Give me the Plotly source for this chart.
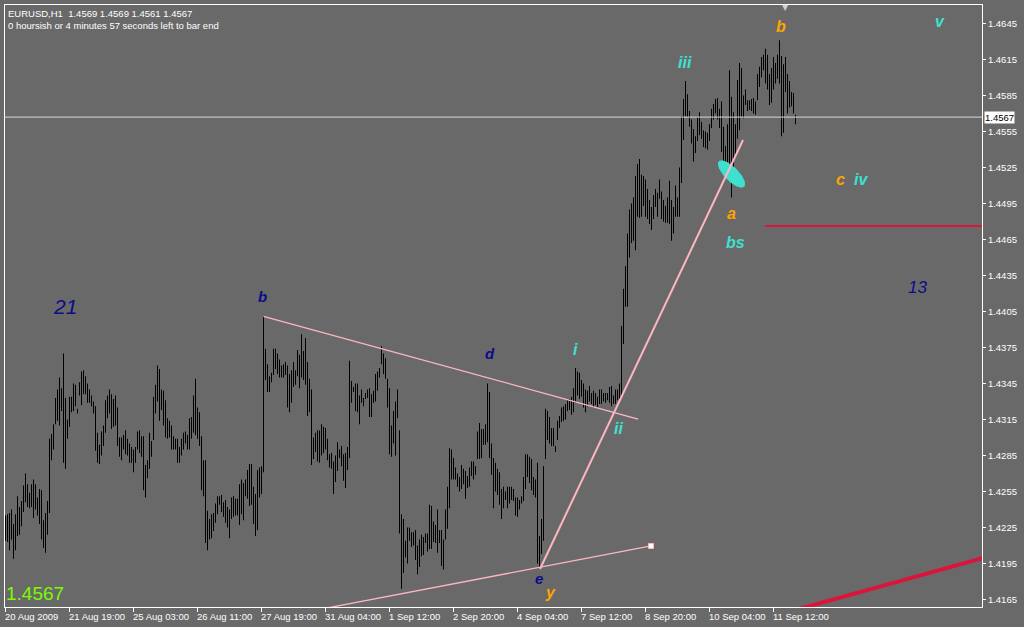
import numpy as np
import plotly.graph_objects as go

# ---------------- data ----------------
symbol = "EURUSD,H1"
last_ohlc = [1.4569, 1.4569, 1.4561, 1.4567]
timer_text = "0 hoursish or 4 minutes 57 seconds left to bar end"
bid_price = 1.4567

time_labels = ["20 Aug 2009", "21 Aug 19:00", "25 Aug 03:00", "26 Aug 11:00",
               "27 Aug 19:00", "31 Aug 04:00", "1 Sep 12:00", "2 Sep 20:00",
               "4 Sep 04:00", "7 Sep 12:00", "8 Sep 20:00", "10 Sep 04:00",
               "11 Sep 12:00"]
bars_per_label = 32

price_ticks = [1.4165, 1.4195, 1.4225, 1.4255, 1.4285, 1.4315, 1.4345, 1.4375,
               1.4405, 1.4435, 1.4465, 1.4495, 1.4525, 1.4555, 1.4585, 1.4615, 1.4645]

highs = [
    1.4235, 1.4236, 1.4237, 1.4240, 1.4228, 1.4236, 1.4251, 1.4242, 1.4247, 1.4260,
    1.4270, 1.4261, 1.4254, 1.4261, 1.4265, 1.4261, 1.4250, 1.4257, 1.4256, 1.4231,
    1.4237, 1.4247, 1.4299, 1.4303, 1.4311, 1.4333, 1.4340, 1.4350, 1.4341, 1.4370,
    1.4333, 1.4315, 1.4334, 1.4334, 1.4345, 1.4344, 1.4324, 1.4346, 1.4355, 1.4356,
    1.4351, 1.4345, 1.4340, 1.4335, 1.4330, 1.4326, 1.4304, 1.4294,
    1.4305, 1.4310, 1.4331, 1.4335, 1.4340, 1.4336, 1.4332, 1.4335, 1.4325, 1.4300,
    1.4300, 1.4302, 1.4306, 1.4299, 1.4295, 1.4292, 1.4290, 1.4292, 1.4305, 1.4306,
    1.4301, 1.4301, 1.4277, 1.4281, 1.4304, 1.4297, 1.4334, 1.4344, 1.4360, 1.4357,
    1.4340, 1.4339, 1.4331, 1.4316, 1.4314, 1.4310, 1.4301, 1.4299, 1.4299, 1.4292,
    1.4299, 1.4304, 1.4305, 1.4302, 1.4316, 1.4317, 1.4335, 1.4349, 1.4325, 1.4321,
    1.4301, 1.4281, 1.4281, 1.4239, 1.4232, 1.4236, 1.4237, 1.4245, 1.4251, 1.4251,
    1.4252, 1.4246, 1.4248, 1.4242, 1.4240, 1.4250, 1.4251, 1.4249, 1.4249, 1.4261,
    1.4265, 1.4262, 1.4265, 1.4273, 1.4278, 1.4278, 1.4259, 1.4253, 1.4273, 1.4275,
    1.4276, 1.4401, 1.4374, 1.4361, 1.4351, 1.4354, 1.4374, 1.4374, 1.4370, 1.4365,
    1.4360, 1.4361, 1.4363, 1.4360, 1.4353, 1.4356, 1.4363, 1.4356, 1.4373, 1.4369,
    1.4386, 1.4372, 1.4383, 1.4363, 1.4349, 1.4340, 1.4300, 1.4304, 1.4306, 1.4306,
    1.4311, 1.4309, 1.4308, 1.4299, 1.4286, 1.4287, 1.4280, 1.4285, 1.4296, 1.4290,
    1.4293, 1.4286, 1.4287, 1.4292, 1.4364, 1.4347, 1.4342, 1.4345, 1.4345, 1.4335,
    1.4340, 1.4333, 1.4337, 1.4340, 1.4341, 1.4336, 1.4339, 1.4353, 1.4355, 1.4358,
    1.4376, 1.4370, 1.4366, 1.4349, 1.4341, 1.4310, 1.4322, 1.4330, 1.4340, 1.4306,
    1.4236, 1.4232, 1.4214, 1.4225, 1.4225, 1.4221, 1.4221, 1.4223, 1.4210, 1.4215,
    1.4219, 1.4217, 1.4220, 1.4220, 1.4244, 1.4243, 1.4230, 1.4227, 1.4240, 1.4223,
    1.4223, 1.4215, 1.4240, 1.4259, 1.4291, 1.4290, 1.4283, 1.4275, 1.4270, 1.4267,
    1.4277, 1.4274, 1.4272, 1.4268, 1.4275, 1.4280, 1.4280, 1.4276, 1.4305, 1.4312,
    1.4307, 1.4307, 1.4311, 1.4345, 1.4338, 1.4295, 1.4283, 1.4279, 1.4274, 1.4271,
    1.4257, 1.4259, 1.4255, 1.4259, 1.4259, 1.4259, 1.4257, 1.4250, 1.4250, 1.4248,
    1.4251, 1.4267, 1.4286, 1.4286, 1.4284, 1.4282, 1.4267, 1.4265, 1.4279, 1.4218,
    1.4232, 1.4276, 1.4324, 1.4322, 1.4317, 1.4308, 1.4308, 1.4293, 1.4314, 1.4318,
    1.4325, 1.4326, 1.4328, 1.4331, 1.4332, 1.4334, 1.4341, 1.4358, 1.4355, 1.4354,
    1.4348, 1.4345, 1.4340, 1.4339, 1.4343, 1.4337, 1.4339, 1.4337, 1.4334, 1.4340,
    1.4340, 1.4337, 1.4337, 1.4337, 1.4342, 1.4343, 1.4335, 1.4340, 1.4340, 1.4345,
    1.4393, 1.4424, 1.4443, 1.4470, 1.4490, 1.4495, 1.4500, 1.4518, 1.4528, 1.4532,
    1.4519, 1.4518, 1.4515, 1.4507, 1.4498, 1.4492, 1.4502, 1.4507, 1.4504, 1.4515,
    1.4505, 1.4498, 1.4493, 1.4500, 1.4514, 1.4498, 1.4492, 1.4510, 1.4500, 1.4525,
    1.4568, 1.4582, 1.4597, 1.4586, 1.4572, 1.4565, 1.4557, 1.4551, 1.4567, 1.4571,
    1.4563, 1.4556, 1.4555, 1.4554, 1.4561, 1.4574, 1.4578, 1.4582, 1.4583, 1.4574,
    1.4580, 1.4559, 1.4543, 1.4561, 1.4606, 1.4584, 1.4571, 1.4561, 1.4598, 1.4612,
    1.4608, 1.4585, 1.4590, 1.4581, 1.4581, 1.4582, 1.4583, 1.4580, 1.4603, 1.4609,
    1.4617, 1.4619, 1.4624, 1.4619, 1.4603, 1.4608, 1.4617, 1.4612, 1.4619, 1.4631,
    1.4618, 1.4611, 1.4617, 1.4603, 1.4597, 1.4588, 1.4587, 1.4569,
]

lows = [
    1.4214, 1.4213, 1.4206, 1.4215, 1.4199, 1.4206, 1.4218, 1.4219, 1.4226, 1.4238,
    1.4246, 1.4242, 1.4241, 1.4242, 1.4233, 1.4240, 1.4235, 1.4228, 1.4215, 1.4208,
    1.4204, 1.4219, 1.4237, 1.4281, 1.4290, 1.4311, 1.4314, 1.4310, 1.4322, 1.4279,
    1.4274, 1.4299, 1.4309, 1.4321, 1.4322, 1.4326, 1.4320, 1.4335, 1.4327, 1.4336,
    1.4336, 1.4329, 1.4329, 1.4326, 1.4320, 1.4289, 1.4279, 1.4278,
    1.4285, 1.4293, 1.4304, 1.4316, 1.4320, 1.4307, 1.4309, 1.4310, 1.4293, 1.4284,
    1.4281, 1.4290, 1.4286, 1.4285, 1.4279, 1.4279, 1.4271, 1.4279, 1.4290, 1.4287,
    1.4284, 1.4256, 1.4250, 1.4266, 1.4274, 1.4284, 1.4298, 1.4320, 1.4330, 1.4314,
    1.4323, 1.4310, 1.4300, 1.4299, 1.4300, 1.4290, 1.4290, 1.4290, 1.4279, 1.4279,
    1.4285, 1.4290, 1.4295, 1.4290, 1.4290, 1.4299, 1.4304, 1.4302, 1.4299, 1.4293,
    1.4256, 1.4251, 1.4212, 1.4206, 1.4215, 1.4216, 1.4222, 1.4229, 1.4236, 1.4244,
    1.4238, 1.4234, 1.4229, 1.4225, 1.4216, 1.4232, 1.4234, 1.4235, 1.4235, 1.4227,
    1.4236, 1.4231, 1.4251, 1.4249, 1.4243, 1.4244, 1.4228, 1.4218, 1.4223, 1.4250,
    1.4253, 1.4271, 1.4348, 1.4338, 1.4338, 1.4346, 1.4352, 1.4357, 1.4353, 1.4350,
    1.4350, 1.4350, 1.4352, 1.4325, 1.4321, 1.4329, 1.4342, 1.4344, 1.4351, 1.4341,
    1.4350, 1.4348, 1.4344, 1.4318, 1.4321, 1.4277, 1.4282, 1.4288, 1.4280, 1.4279,
    1.4285, 1.4287, 1.4290, 1.4281, 1.4275, 1.4274, 1.4253, 1.4263, 1.4272, 1.4283,
    1.4276, 1.4264, 1.4258, 1.4273, 1.4283, 1.4329, 1.4338, 1.4322, 1.4321, 1.4311,
    1.4329, 1.4326, 1.4332, 1.4333, 1.4317, 1.4317, 1.4329, 1.4330, 1.4339, 1.4350,
    1.4361, 1.4353, 1.4349, 1.4325, 1.4286, 1.4284, 1.4295, 1.4285, 1.4316, 1.4220,
    1.4174, 1.4187, 1.4200, 1.4195, 1.4214, 1.4209, 1.4210, 1.4198, 1.4186, 1.4192,
    1.4201, 1.4202, 1.4212, 1.4205, 1.4207, 1.4207, 1.4213, 1.4212, 1.4204, 1.4212,
    1.4193, 1.4190, 1.4215, 1.4224, 1.4241, 1.4265, 1.4265, 1.4265, 1.4259, 1.4255,
    1.4257, 1.4261, 1.4249, 1.4258, 1.4259, 1.4268, 1.4265, 1.4269, 1.4282, 1.4282,
    1.4283, 1.4294, 1.4294, 1.4296, 1.4283, 1.4269, 1.4241, 1.4255, 1.4252, 1.4244,
    1.4232, 1.4241, 1.4248, 1.4241, 1.4245, 1.4248, 1.4247, 1.4235, 1.4234, 1.4240,
    1.4245, 1.4247, 1.4257, 1.4267, 1.4262, 1.4256, 1.4252, 1.4250, 1.4195, 1.4191,
    1.4203, 1.4214, 1.4282, 1.4298, 1.4295, 1.4293, 1.4293, 1.4288, 1.4298, 1.4308,
    1.4313, 1.4314, 1.4315, 1.4322, 1.4323, 1.4319, 1.4321, 1.4329, 1.4335, 1.4332,
    1.4334, 1.4325, 1.4321, 1.4326, 1.4330, 1.4328, 1.4325, 1.4327, 1.4325, 1.4328,
    1.4328, 1.4330, 1.4329, 1.4331, 1.4329, 1.4326, 1.4328, 1.4328, 1.4331, 1.4332,
    1.4334, 1.4378, 1.4409, 1.4409, 1.4450, 1.4462, 1.4464, 1.4456, 1.4484, 1.4483,
    1.4484, 1.4493, 1.4484, 1.4482, 1.4478, 1.4473, 1.4482, 1.4492, 1.4484, 1.4499,
    1.4482, 1.4480, 1.4479, 1.4479, 1.4478, 1.4464, 1.4470, 1.4484, 1.4484, 1.4484,
    1.4512, 1.4548, 1.4568, 1.4567, 1.4559, 1.4545, 1.4530, 1.4537, 1.4547, 1.4552,
    1.4549, 1.4542, 1.4541, 1.4540, 1.4547, 1.4558, 1.4565, 1.4570, 1.4565, 1.4558,
    1.4538, 1.4522, 1.4521, 1.4522, 1.4517, 1.4500, 1.4525, 1.4533, 1.4549, 1.4556,
    1.4567, 1.4566, 1.4577, 1.4572, 1.4573, 1.4572, 1.4570, 1.4569, 1.4581, 1.4592,
    1.4600, 1.4606, 1.4595, 1.4590, 1.4577, 1.4579, 1.4590, 1.4595, 1.4599, 1.4595,
    1.4551, 1.4554, 1.4588, 1.4570, 1.4575, 1.4576, 1.4570, 1.4561,
]

# chart objects (bar index, price)
upper_trend = [(129.0, 1.4401), (316.25, 1.43154)]
lower_trend = [(150.0, 1.41545), (322.75, 1.42096)]
impulse_trend = [(267.25, 1.41904), (368.75, 1.45479)]
red_level = [(379.75, 1.44763), (600.0, 1.44763)]
red_ray = [(380.0, 1.41494), (448.9, 1.41812)]
ellipse_center = (363.0, 1.45196)

wave_labels = [
    # text, bar, price, colour, size, bold
    ("21", 29.75, 1.44088, "#0C0C8A", 21, False),
    ("b", 128.25, 1.44171, "#0C0C8A", 15, True),
    ("d", 242.25, 1.43704, "#0C0C8A", 15, True),
    ("e", 266.75, 1.41829, "#0C0C8A", 15, True),
    ("13", 455.75, 1.44254, "#0C0C8A", 17, False),
    ("i", 284.75, 1.43737, "#40E0D0", 16, True),
    ("ii", 306.25, 1.43079, "#40E0D0", 16, True),
    ("iii", 339.75, 1.46121, "#40E0D0", 16, True),
    ("bs", 364.75, 1.44629, "#40E0D0", 16, True),
    ("iv", 427.75, 1.45146, "#40E0D0", 16, True),
    ("v", 467.25, 1.46463, "#40E0D0", 16, True),
    ("b", 387.75, 1.46429, "#FFA500", 16, True),
    ("a", 362.75, 1.44863, "#FFA500", 16, True),
    ("c", 417.25, 1.45146, "#FFA500", 16, True),
    ("y", 272.25, 1.41712, "#FFA500", 16, True),
]

# ---------------- geometry ----------------
W, H = 1024, 627
ML, MR, MT, MB = 5, 42, 5, 20
x_range = [-0.25, 488.25]
y_range = [1.415875, 1.4660417]
px_per_bar = (W - ML - MR) / (x_range[1] - x_range[0])
px_per_price = (H - MT - MB) / (y_range[1] - y_range[0])

BG = "#696969"
PINK = "#FFB6C1"
RED = "#DC143C"
FONT = "Liberation Sans, Arial, sans-serif"

n = min(len(highs), len(lows))
idx = np.arange(n)
hi = np.array(highs[:n])
lo = np.array(lows[:n])

fig = go.Figure()

# ellipse (drawn behind bars)
t = np.linspace(0, 2 * np.pi, 80)
a_px, b_px, ang = 18.0, 7.0, np.deg2rad(45)
dx = a_px * np.cos(t) * np.cos(ang) - b_px * np.sin(t) * np.sin(ang)
dy = a_px * np.cos(t) * np.sin(ang) + b_px * np.sin(t) * np.cos(ang)
fig.add_trace(go.Scatter(
    x=ellipse_center[0] + dx / px_per_bar,
    y=ellipse_center[1] - dy / px_per_price,
    mode="lines", fill="toself", fillcolor="#40E0D0",
    line=dict(width=0, color="#40E0D0"), hoverinfo="skip"))

# price bars (high-low)
fig.add_trace(go.Bar(
    x=idx, y=hi - lo, base=lo, width=0.45,
    marker=dict(color="black", line=dict(width=0)), hoverinfo="skip"))

def add_line(pts, color, width):
    fig.add_trace(go.Scatter(x=[p[0] for p in pts], y=[p[1] for p in pts],
                             mode="lines", line=dict(color=color, width=width),
                             hoverinfo="skip"))

add_line(upper_trend, PINK, 1.3)
add_line(lower_trend, PINK, 1.3)
add_line(impulse_trend, PINK, 2)
add_line(red_level, RED, 2)
add_line(red_ray, RED, 4)
slope = (red_ray[1][1] - red_ray[0][1]) / (red_ray[1][0] - red_ray[0][0])
add_line([red_ray[1], (x_range[1] + 20, red_ray[1][1] + slope * (x_range[1] + 20 - red_ray[1][0]))], RED, 4)
add_line([(x_range[0], bid_price), (x_range[1], bid_price)], "#D8D8D8", 1)
fig.add_trace(go.Scatter(x=[lower_trend[1][0]], y=[lower_trend[1][1]], mode="markers",
                         marker=dict(symbol="square", size=5, color="white",
                                     line=dict(color=PINK, width=1)),
                         hoverinfo="skip"))

annotations = []
for text, bx, py, col, size, bold in wave_labels:
    txt = f"<i>{text}</i>"
    if bold:
        txt = f"<b>{txt}</b>"
    annotations.append(dict(x=bx, y=py, xref="x", yref="y", text=txt, showarrow=False,
                            font=dict(family=FONT, size=size, color=col)))

for k, lab in enumerate(time_labels):
    annotations.append(dict(x=k * bars_per_label, y=0, xref="x", yref="paper",
                            text=lab, showarrow=False, xanchor="left", yanchor="top",
                            xshift=-3, yshift=-2,
                            font=dict(family=FONT, size=9.5, color="white")))

annotations.append(dict(x=0, y=1, xref="paper", yref="paper", xanchor="left", yanchor="top",
                        text=f"{symbol}  " + " ".join(f"{v:.4f}" for v in last_ohlc),
                        showarrow=False, xshift=1, yshift=-1,
                        font=dict(family=FONT, size=9.5, color="white")))
annotations.append(dict(x=0, y=1, xref="paper", yref="paper", xanchor="left", yanchor="top",
                        text=timer_text, showarrow=False, xshift=1, yshift=-13,
                        font=dict(family=FONT, size=9.5, color="white")))
annotations.append(dict(x=0, y=0, xref="paper", yref="paper", xanchor="left", yanchor="bottom",
                        text=f"{bid_price:.4f}", showarrow=False, xshift=-1, yshift=1,
                        font=dict(family=FONT, size=19, color="#7CFC00")))
annotations.append(dict(x=1, y=bid_price, xref="paper", yref="y", xanchor="left", yanchor="middle",
                        text=f"{bid_price:.4f}", showarrow=False, xshift=2,
                        bgcolor="white", borderpad=0,
                        font=dict(family=FONT, size=9.5, color="black")))
annotations.append(dict(x=389.75, y=1, xref="x", yref="paper", yanchor="middle",
                        text="▼", showarrow=False, yshift=-2,
                        font=dict(family="DejaVu Sans", size=8, color="#D0D0D0")))

fig.update_layout(
    width=W, height=H,
    margin=dict(l=ML, r=MR, t=MT, b=MB, pad=0),
    paper_bgcolor=BG, plot_bgcolor=BG,
    showlegend=False, barmode="overlay",
    annotations=annotations,
    xaxis=dict(range=x_range, showgrid=False, zeroline=False,
               showline=True, linecolor="white", linewidth=1, mirror=True,
               ticks="outside", ticklen=4, tickcolor="white",
               tickvals=[k * bars_per_label for k in range(len(time_labels))],
               showticklabels=False, fixedrange=True),
    yaxis=dict(range=y_range, side="right", showgrid=False, zeroline=False,
               showline=True, linecolor="white", linewidth=1, mirror=True,
               ticks="outside", ticklen=3, tickcolor="white",
               tickvals=price_ticks, tickformat=".4f",
               tickfont=dict(family=FONT, size=9.5, color="white"),
               fixedrange=True),
)

fig.write_html("out.html", config={"displayModeBar": False},
               post_script="document.body.style.margin='0';document.body.style.background='" + BG + "';")
